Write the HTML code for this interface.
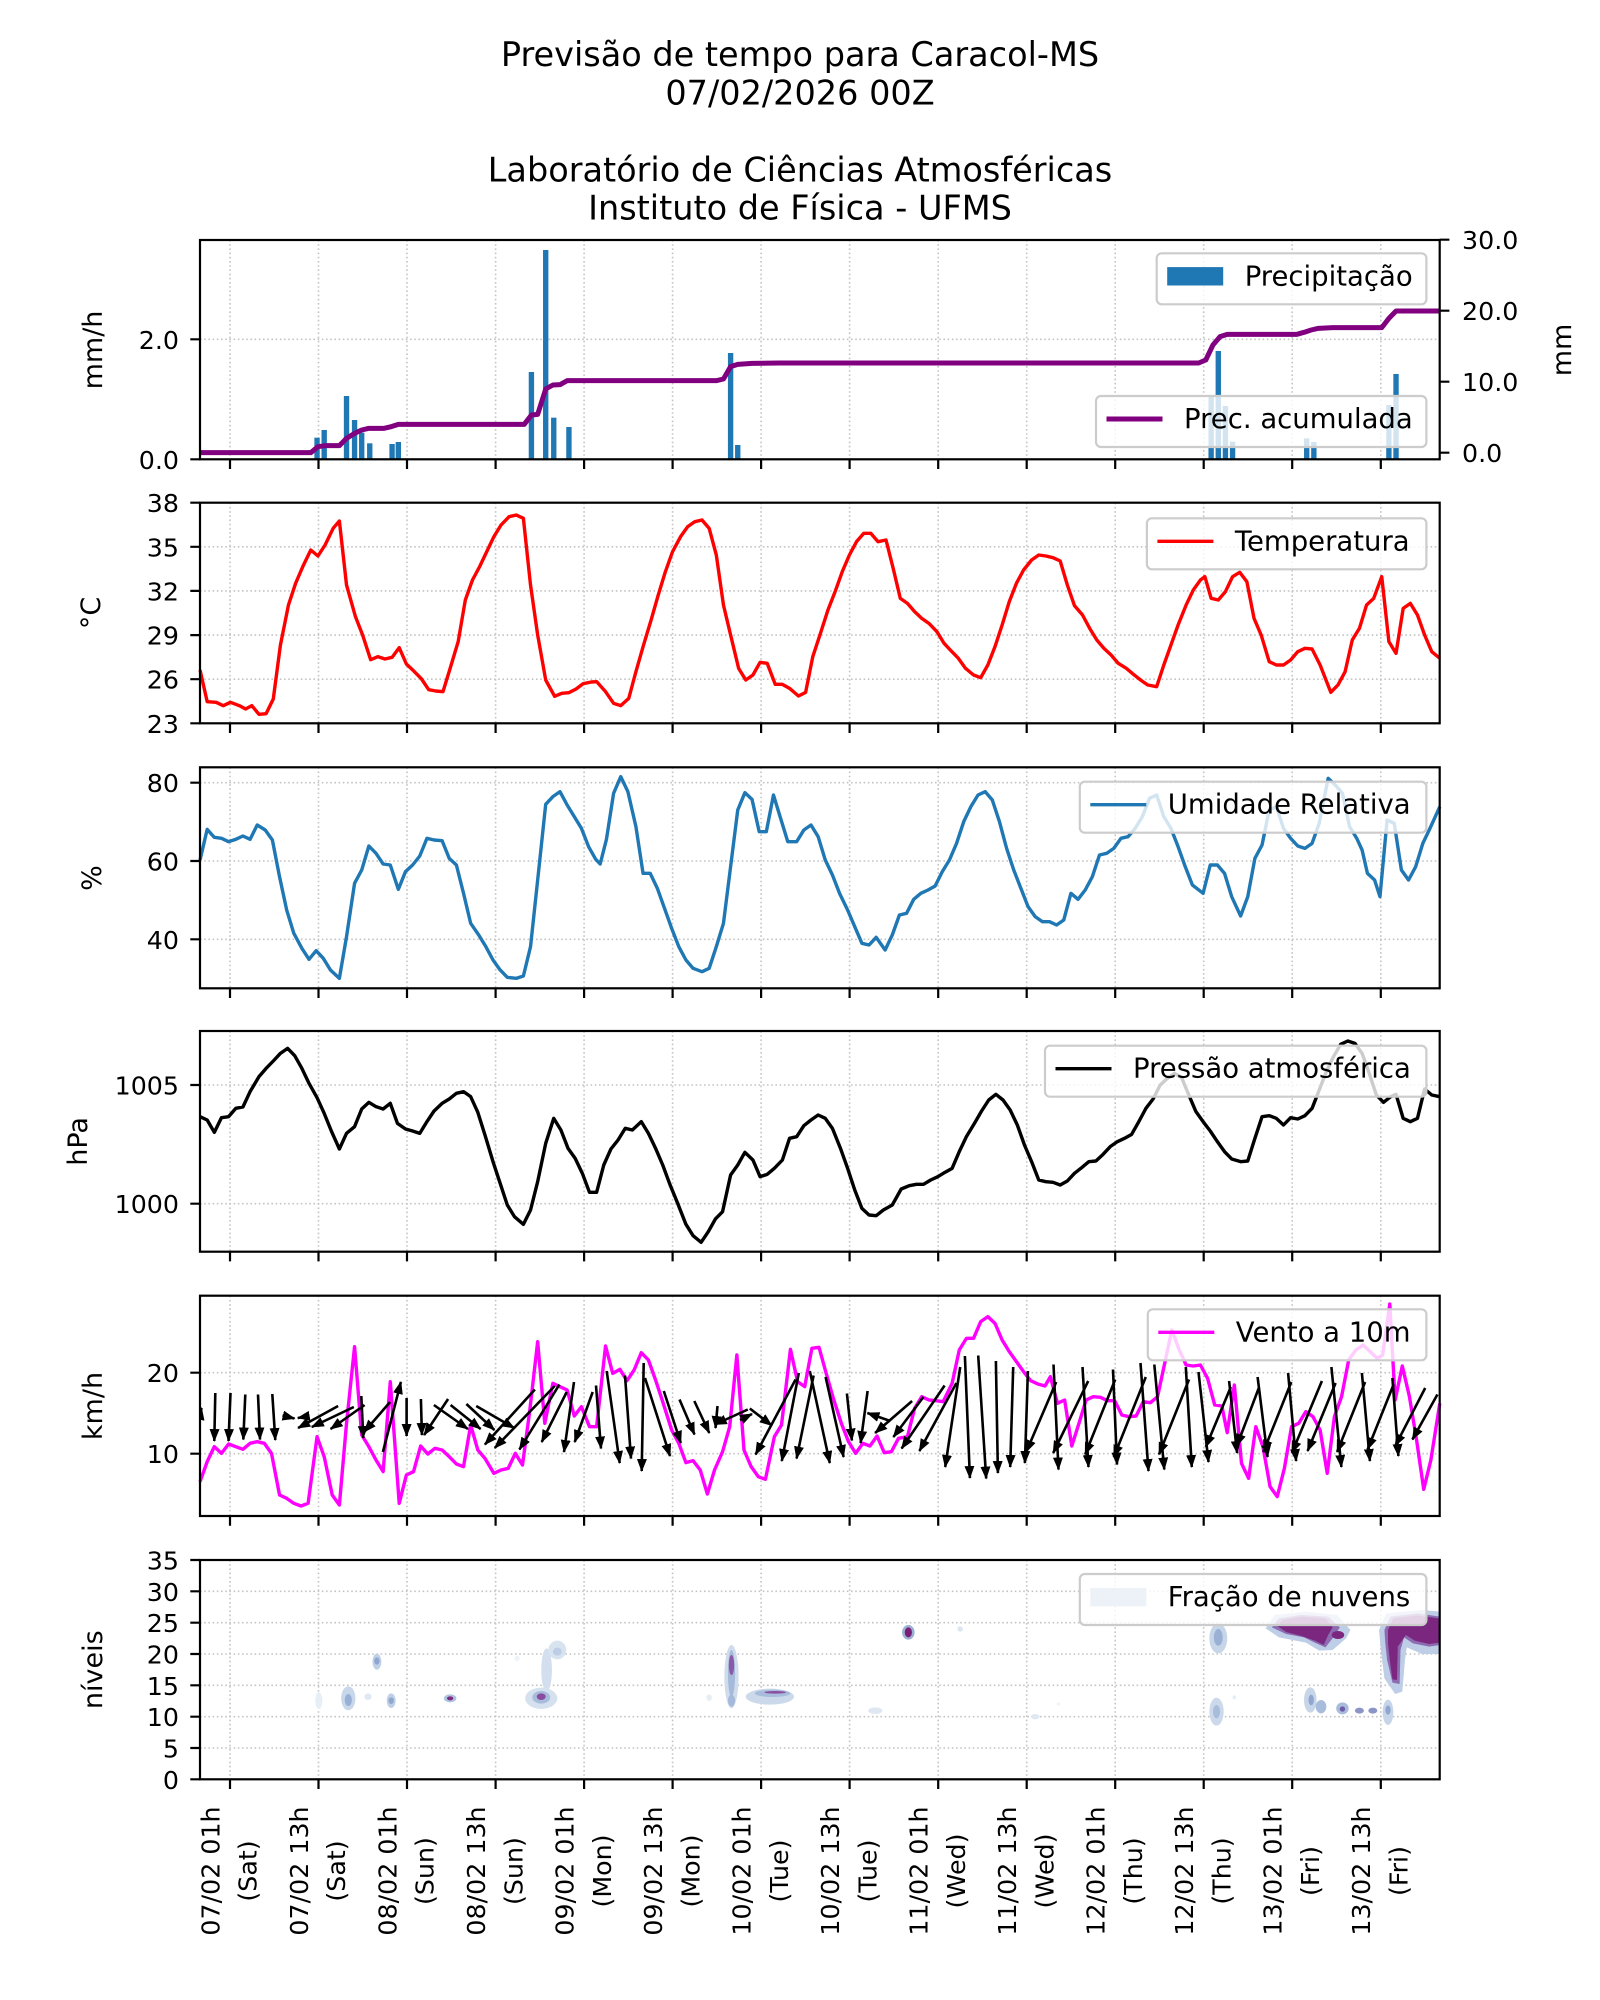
<!DOCTYPE html>
<html><head><meta charset="utf-8"><style>
html,body{margin:0;padding:0;background:#fff;}
svg{display:block;}
text{font-family:"DejaVu Sans","Liberation Sans",sans-serif;fill:#000;}
.grid{stroke:#c4c4c4;stroke-width:1.6;stroke-dasharray:1.6,2.6;fill:none;}
.sp{fill:none;stroke:#000;stroke-width:2.2;}
.tk{stroke:#000;stroke-width:2.2;}
.tl{font-size:25.3px;text-anchor:end;}
.tr{font-size:25.3px;text-anchor:start;}
.yl{font-size:27px;text-anchor:middle;}
.xl{font-size:25.3px;text-anchor:middle;}
.lg{fill:#fff;fill-opacity:0.8;stroke:#cccccc;stroke-width:2.2;}
.lt{font-size:27.5px;}
.ln{fill:none;stroke-width:3.4;stroke-linejoin:round;vector-effect:non-scaling-stroke;}
.ar path{fill:none;stroke:#000;stroke-width:2.6;marker-end:url(#ah);}
</style></head><body>
<svg width="1600" height="2000" viewBox="0 0 1600 2000" xmlns="http://www.w3.org/2000/svg">
<defs>
<marker id="ah" viewBox="0 0 13 10" refX="12" refY="5" markerWidth="13" markerHeight="10" markerUnits="userSpaceOnUse" orient="auto"><path d="M0,0L13,5L0,10z" fill="#000"/></marker>
<clipPath id="c5"><rect x="200" y="1295.7" width="1239.7" height="220.3"/></clipPath>
</defs>
<rect width="1600" height="2000" fill="#fff"/>

<!-- Titles -->
<text x="800" y="66" font-size="33.5" text-anchor="middle">Previsão de tempo para Caracol-MS</text>
<text x="800" y="104.5" font-size="33.5" text-anchor="middle">07/02/2026 00Z</text>
<text x="800" y="181.5" font-size="33.5" text-anchor="middle">Laboratório de Ciências Atmosféricas</text>
<text x="800" y="219.5" font-size="33.5" text-anchor="middle">Instituto de Física - UFMS</text>

<!-- Vertical grid lines for all panels -->
<g class="grid">
<path d="M230,240V459.3M318.5,240V459.3M407,240V459.3M495.6,240V459.3M584.1,240V459.3M672.6,240V459.3M761.1,240V459.3M849.6,240V459.3M938.2,240V459.3M1026.7,240V459.3M1115.2,240V459.3M1203.7,240V459.3M1292.2,240V459.3M1380.8,240V459.3"/>
<path d="M230,502.7V723.3M318.5,502.7V723.3M407,502.7V723.3M495.6,502.7V723.3M584.1,502.7V723.3M672.6,502.7V723.3M761.1,502.7V723.3M849.6,502.7V723.3M938.2,502.7V723.3M1026.7,502.7V723.3M1115.2,502.7V723.3M1203.7,502.7V723.3M1292.2,502.7V723.3M1380.8,502.7V723.3"/>
<path d="M230,767.3V988.3M318.5,767.3V988.3M407,767.3V988.3M495.6,767.3V988.3M584.1,767.3V988.3M672.6,767.3V988.3M761.1,767.3V988.3M849.6,767.3V988.3M938.2,767.3V988.3M1026.7,767.3V988.3M1115.2,767.3V988.3M1203.7,767.3V988.3M1292.2,767.3V988.3M1380.8,767.3V988.3"/>
<path d="M230,1031V1251.7M318.5,1031V1251.7M407,1031V1251.7M495.6,1031V1251.7M584.1,1031V1251.7M672.6,1031V1251.7M761.1,1031V1251.7M849.6,1031V1251.7M938.2,1031V1251.7M1026.7,1031V1251.7M1115.2,1031V1251.7M1203.7,1031V1251.7M1292.2,1031V1251.7M1380.8,1031V1251.7"/>
<path d="M230,1295.7V1516M318.5,1295.7V1516M407,1295.7V1516M495.6,1295.7V1516M584.1,1295.7V1516M672.6,1295.7V1516M761.1,1295.7V1516M849.6,1295.7V1516M938.2,1295.7V1516M1026.7,1295.7V1516M1115.2,1295.7V1516M1203.7,1295.7V1516M1292.2,1295.7V1516M1380.8,1295.7V1516"/>
<path d="M230,1560V1779.3M318.5,1560V1779.3M407,1560V1779.3M495.6,1560V1779.3M584.1,1560V1779.3M672.6,1560V1779.3M761.1,1560V1779.3M849.6,1560V1779.3M938.2,1560V1779.3M1026.7,1560V1779.3M1115.2,1560V1779.3M1203.7,1560V1779.3M1292.2,1560V1779.3M1380.8,1560V1779.3"/>
<path d="M200,339.3H1439.7"/>
<path d="M200,679.2H1439.7M200,635.1H1439.7M200,590.9H1439.7M200,546.8H1439.7"/>
<path d="M200,939.3H1439.7M200,861H1439.7M200,782.7H1439.7"/>
<path d="M200,1203.7H1439.7M200,1085H1439.7"/>
<path d="M200,1453.7H1439.7M200,1372.7H1439.7"/>
<path d="M200,1748H1439.7M200,1716.7H1439.7M200,1685.3H1439.7M200,1654H1439.7M200,1622.7H1439.7M200,1591.3H1439.7"/>
</g>

<!-- PANEL 1: precipitation -->
<g transform="translate(100,225) scale(0.8932,0.33333)">
<g fill="#1f77b4">
<rect x="240" y="638" width="6" height="65"/>
<rect x="248" y="615" width="6" height="88"/>
<rect x="273" y="513" width="6" height="190"/>
<rect x="282" y="585" width="6" height="118"/>
<rect x="290" y="623" width="6" height="80"/>
<rect x="299" y="655" width="6" height="48"/>
<rect x="324" y="657" width="6" height="46"/>
<rect x="331" y="651" width="6" height="52"/>
<rect x="480" y="441" width="6" height="262"/>
<rect x="496" y="75" width="6" height="628"/>
<rect x="505" y="578" width="6" height="125"/>
<rect x="522" y="606" width="6" height="97"/>
<rect x="703" y="384" width="6" height="319"/>
<rect x="711" y="660" width="6" height="43"/>
<rect x="1241" y="515" width="6" height="188"/>
<rect x="1249" y="378" width="6" height="325"/>
<rect x="1257" y="543" width="6" height="160"/>
<rect x="1265" y="650" width="6" height="53"/>
<rect x="1348" y="640" width="6" height="63"/>
<rect x="1356" y="651" width="6" height="52"/>
<rect x="1440" y="540" width="6" height="163"/>
<rect x="1448" y="447" width="6" height="256"/>
</g>
<polyline class="ln" style="stroke:#800080;stroke-width:5" points="112,683 236,683 244,665 252,662 268,662 276,640 285,625 293,615 301,610 318,610 326,605 334,598 475,598 483,570 490,568 499,492 507,480 515,479 523,467 690,467 698,462 706,425 714,418 730,415 760,414 1230,414 1238,405 1246,360 1254,335 1262,328 1340,328 1348,322 1356,315 1364,310 1380,308 1435,308 1443,280 1451,258 1500,258"/>
</g>
<rect class="lg" x="1156.7" y="253.3" width="269.7" height="51" rx="5"/>
<rect x="1167.2" y="267.1" width="56" height="18.4" fill="#1f77b4"/>
<text class="lt" x="1244.7" y="285.3">Precipitação</text>
<rect class="lg" x="1096" y="396" width="330.4" height="51" rx="5"/>
<line x1="1106.5" y1="419" x2="1162.5" y2="419" stroke="#800080" stroke-width="5"/>
<text class="lt" x="1184" y="428">Prec. acumulada</text>
<rect class="sp" x="200" y="240" width="1239.7" height="219.3"/>
<path class="tk" d="M190.3,459.3H200M190.3,339.3H200M1439.7,452.7H1449.4M1439.7,381.7H1449.4M1439.7,310.7H1449.4M1439.7,239.7H1449.4"/>
<text class="tl" x="179" y="468.8">0.0</text>
<text class="tl" x="179" y="348.8">2.0</text>
<text class="tr" x="1462" y="462.2">0.0</text>
<text class="tr" x="1462" y="391.2">10.0</text>
<text class="tr" x="1462" y="320.2">20.0</text>
<text class="tr" x="1462" y="249.2">30.0</text>
<text class="yl" transform="translate(102,350) rotate(-90)">mm/h</text>
<text class="yl" transform="translate(1571,350) rotate(-90)">mm</text>

<!-- PANEL 2: temperature -->
<g transform="translate(100,495) scale(0.8932,0.33333)">
<polyline class="ln" style="stroke:#ff0000" points="112,525 120,620 130,622 138,632 146,622 156,632 163,642 170,632 178,658 186,656 194,612 202,450 211,330 219,265 227,215 236,165 244,183 252,150 261,100 268,78 276,270 286,365 294,420 303,494 311,485 319,492 327,487 335,458 343,507 352,530 360,552 368,584 376,588 384,590 392,520 401,440 409,315 417,255 425,215 433,170 441,125 449,90 458,65 466,60 474,70 482,270 490,420 499,555 509,604 517,595 525,593 533,582 541,566 550,561 556,560 566,590 575,625 583,632 592,610 600,530 608,455 617,375 625,300 633,230 641,170 650,125 658,95 666,80 674,75 682,100 690,180 698,330 706,420 715,520 723,555 731,540 739,502 747,505 756,568 764,568 772,580 782,603 790,592 798,485 806,420 815,345 823,290 831,230 839,180 847,140 855,115 863,115 871,140 880,135 888,220 896,310 904,325 912,350 920,370 928,385 937,410 945,445 953,468 961,490 969,520 978,540 986,548 994,510 1002,455 1010,390 1018,320 1026,265 1034,225 1043,195 1051,180 1059,183 1067,188 1075,198 1083,270 1091,332 1100,360 1108,400 1116,435 1124,460 1132,480 1140,505 1149,520 1157,538 1165,555 1173,570 1183,575 1191,510 1199,450 1207,390 1216,330 1224,285 1232,255 1237,245 1244,310 1252,315 1260,290 1268,245 1276,232 1284,260 1292,370 1300,420 1309,500 1317,510 1325,510 1333,495 1341,470 1349,460 1357,462 1366,510 1378,592 1386,570 1394,530 1402,435 1410,400 1418,330 1426,310 1435,245 1443,440 1451,475 1459,340 1467,325 1475,360 1483,420 1491,470 1500,490"/>
</g>
<rect class="lg" x="1146.9" y="518.3" width="279.5" height="51" rx="5"/>
<line x1="1157.4" y1="541.3" x2="1213.4" y2="541.3" stroke="#ff0000" stroke-width="3.4"/>
<text class="lt" x="1234.9" y="550.3">Temperatura</text>
<rect class="sp" x="200" y="502.7" width="1239.7" height="220.6"/>
<path class="tk" d="M190.3,723.3H200M190.3,679.2H200M190.3,635.1H200M190.3,590.9H200M190.3,546.8H200M190.3,502.7H200"/>
<text class="tl" x="179" y="732.8">23</text>
<text class="tl" x="179" y="688.7">26</text>
<text class="tl" x="179" y="644.6">29</text>
<text class="tl" x="179" y="600.4">32</text>
<text class="tl" x="179" y="556.3">35</text>
<text class="tl" x="179" y="512.2">38</text>
<text class="yl" transform="translate(100,613) rotate(-90)">°C</text>

<!-- PANEL 3: humidity -->
<g transform="translate(100,760) scale(0.8932,0.33333)">
<polyline class="ln" style="stroke:#1f77b4" points="112,300 120,208 128,232 136,235 144,245 152,238 160,228 168,238 176,195 185,210 193,240 201,350 209,450 217,520 226,565 234,598 242,572 250,595 258,630 268,655 276,530 285,370 293,330 301,258 309,280 317,312 325,315 334,388 342,335 350,315 358,288 366,235 374,240 383,242 391,295 399,315 407,400 415,490 424,525 432,560 440,600 448,630 456,652 466,655 474,648 482,560 490,360 499,133 507,110 515,95 523,135 531,170 539,205 547,260 555,298 560,312 567,238 575,100 583,50 591,95 600,200 608,340 616,340 624,385 632,445 640,505 648,560 656,600 664,625 674,635 682,625 690,560 698,490 706,320 714,150 722,98 730,118 738,215 746,215 754,105 762,175 770,245 780,245 788,210 796,195 804,230 812,300 820,345 828,400 837,450 845,500 853,550 861,555 869,532 879,570 887,525 895,465 903,460 911,418 919,400 927,390 935,378 943,335 951,300 959,250 967,185 975,140 983,105 991,95 999,120 1007,185 1015,265 1023,330 1031,385 1039,440 1047,470 1055,485 1063,485 1071,495 1079,480 1087,400 1095,418 1103,390 1111,350 1119,285 1127,280 1135,265 1143,235 1151,230 1159,205 1167,170 1175,115 1183,105 1191,170 1199,205 1207,260 1215,320 1223,375 1235,400 1243,315 1251,315 1259,340 1267,410 1277,468 1285,410 1293,295 1301,255 1309,150 1317,140 1325,205 1333,235 1341,258 1349,265 1357,250 1365,190 1375,55 1383,75 1391,100 1399,200 1407,235 1413,270 1419,340 1427,360 1433,410 1441,180 1449,190 1457,330 1465,360 1473,320 1481,250 1489,205 1500,140"/>
</g>
<rect class="lg" x="1079.8" y="781.7" width="346.6" height="51" rx="5"/>
<line x1="1090.3" y1="804.7" x2="1146.3" y2="804.7" stroke="#1f77b4" stroke-width="3.4"/>
<text class="lt" x="1167.8" y="813.7">Umidade Relativa</text>
<rect class="sp" x="200" y="767.3" width="1239.7" height="221"/>
<path class="tk" d="M190.3,939.3H200M190.3,861H200M190.3,782.7H200"/>
<text class="tl" x="179" y="948.8">40</text>
<text class="tl" x="179" y="870.5">60</text>
<text class="tl" x="179" y="792.2">80</text>
<text class="yl" transform="translate(101,878) rotate(-90)">%</text>

<!-- PANEL 4: pressure -->
<g transform="translate(100,1025) scale(0.8932,0.33333)">
<polyline class="ln" style="stroke:#000" points="112,275 120,285 128,322 136,278 144,275 152,250 160,246 168,200 178,155 186,130 194,108 202,85 210,70 218,92 226,130 234,175 243,218 251,265 259,318 268,372 276,325 285,305 293,252 301,232 309,245 317,252 325,235 333,295 342,312 350,318 358,325 366,290 374,258 383,235 391,222 399,205 407,200 415,215 423,262 431,330 440,410 448,475 456,540 464,575 474,598 482,555 490,470 499,355 508,280 516,315 524,370 532,400 540,445 548,502 556,502 564,420 572,372 580,345 588,310 596,315 606,290 614,325 622,370 630,420 638,478 646,530 656,598 664,632 673,652 681,620 689,582 697,560 706,450 714,420 722,382 731,405 739,455 747,448 755,430 764,405 772,340 780,335 788,302 796,285 804,270 812,280 820,310 829,370 837,430 845,495 853,550 861,570 869,572 877,555 887,540 897,492 906,482 914,478 922,478 930,465 938,455 946,442 954,430 962,380 970,335 979,295 987,258 995,225 1003,208 1011,225 1019,255 1027,300 1035,360 1043,410 1051,465 1059,470 1067,472 1075,480 1083,468 1091,445 1099,428 1107,410 1115,408 1123,388 1131,365 1139,350 1147,340 1155,328 1163,290 1171,250 1179,222 1187,180 1195,160 1203,145 1211,158 1219,210 1227,260 1235,290 1243,318 1251,350 1259,380 1267,402 1277,410 1285,408 1293,340 1301,275 1309,272 1317,280 1325,300 1333,278 1341,282 1349,272 1357,250 1365,195 1373,140 1381,95 1389,58 1397,48 1405,55 1413,85 1421,145 1429,210 1437,232 1445,215 1451,208 1459,280 1467,290 1475,280 1483,192 1491,210 1500,215"/>
</g>
<rect class="lg" x="1045" y="1045.7" width="381.4" height="51" rx="5"/>
<line x1="1055.5" y1="1068.7" x2="1111.5" y2="1068.7" stroke="#000" stroke-width="3.4"/>
<text class="lt" x="1133" y="1077.7">Pressão atmosférica</text>
<rect class="sp" x="200" y="1031" width="1239.7" height="220.7"/>
<path class="tk" d="M190.3,1203.7H200M190.3,1085H200"/>
<text class="tl" x="179" y="1213.2">1000</text>
<text class="tl" x="179" y="1094.5">1005</text>
<text class="yl" transform="translate(87,1141.4) rotate(-90)">hPa</text>

<!-- PANEL 5: wind -->
<g transform="translate(100,1290) scale(0.8932,0.33333)">
<polyline class="ln" style="stroke:#ff00ff" points="112,575 120,515 128,470 136,490 144,462 152,470 160,478 168,460 176,455 184,460 192,490 201,615 209,625 217,640 225,648 233,640 243,440 251,500 260,615 268,645 276,400 285,170 293,435 301,470 309,510 317,545 325,275 335,640 343,555 351,545 359,468 367,492 375,475 383,480 391,500 399,522 407,530 415,405 423,480 431,505 441,550 449,540 457,535 465,490 473,525 481,365 490,155 498,400 507,280 515,290 523,300 531,378 539,350 548,410 556,410 566,168 574,250 582,238 590,272 598,240 606,188 614,210 622,270 630,335 640,420 648,460 656,518 664,512 672,540 680,612 688,540 697,485 705,410 713,195 721,480 729,530 737,560 745,568 755,440 763,405 773,178 781,275 789,290 797,175 805,172 813,250 821,325 830,400 838,455 846,490 854,460 862,468 870,438 878,488 886,485 894,445 904,440 912,355 920,320 928,330 936,332 944,335 954,280 962,180 970,145 978,145 986,95 994,80 1002,100 1010,150 1018,185 1026,215 1034,245 1042,272 1050,282 1058,288 1064,260 1072,340 1080,330 1088,468 1096,400 1104,330 1112,320 1120,322 1128,332 1136,332 1144,375 1152,380 1160,378 1168,335 1176,338 1184,320 1192,220 1200,120 1208,178 1216,225 1224,228 1232,225 1240,265 1248,345 1256,348 1262,428 1270,285 1278,520 1286,565 1294,410 1302,470 1310,590 1318,620 1326,535 1334,410 1342,400 1350,365 1358,380 1366,420 1374,550 1382,380 1390,320 1398,210 1406,180 1414,165 1422,185 1430,205 1436,195 1444,42 1450,330 1458,228 1466,320 1474,450 1482,598 1490,510 1500,340"/>
</g>
<g class="ar" clip-path="url(#c5)">
<path d="M200,1417m-1.5,9l3,-18"/>
<path d="M214.8,1417m0.5,-24l-1,48"/>
<path d="M229.5,1417m1,-24l-2,48"/>
<path d="M244.3,1417m1,-22.5l-2,45"/>
<path d="M259,1417m-1,-22.5l2,45"/>
<path d="M273.8,1417m-1.5,-23l3,46"/>
<path d="M288.5,1417m-6,-1.5l12,3"/>
<path d="M303.3,1417m5.5,-1l-11,2"/>
<path d="M318.1,1417m20,-11l-40,22"/>
<path d="M332.8,1417m21,-10l-42,20"/>
<path d="M347.6,1417m17,-12l-34,24"/>
<path d="M362.3,1417m-1,-21l2,42"/>
<path d="M377.1,1417m13,-15l-26,30"/>
<path d="M391.9,1417m-9,35l18,-70"/>
<path d="M406.6,1417m0,-19l0,38"/>
<path d="M421.4,1417m-0.5,-18l1,36"/>
<path d="M436.1,1417m12,-18l-24,36"/>
<path d="M450.9,1417m-17,-12l34,24"/>
<path d="M465.6,1417m-15,-12l30,24"/>
<path d="M480.4,1417m-14,-13l28,26"/>
<path d="M495.2,1417m-19,-11l38,22"/>
<path d="M509.9,1417m25,-27.5l-50,55"/>
<path d="M524.7,1417m30,-31l-60,62"/>
<path d="M539.4,1417m20,-32.5l-40,65"/>
<path d="M554.2,1417m12.5,-25l-25,50"/>
<path d="M569,1417m5,-35l-10,70"/>
<path d="M583.7,1417m9,-25l-18,50"/>
<path d="M598.5,1417m-2.5,-31.5l5,63"/>
<path d="M613.2,1417m-6.5,-46l13,92"/>
<path d="M628,1417m-3,-41.5l6,83"/>
<path d="M642.7,1417m1,-54l-2,108"/>
<path d="M657.5,1417m-12.5,-39l25,78"/>
<path d="M672.3,1417m-8.5,-26l17,52"/>
<path d="M687,1417m-7.5,-17.5l15,35"/>
<path d="M701.8,1417m-7.5,-16l15,32"/>
<path d="M716.5,1417m1,-11l-2,22"/>
<path d="M731.3,1417m16.5,-7.5l-33,15"/>
<path d="M746,1417m-6,3l12,-6"/>
<path d="M760.8,1417m-11,-8.5l22,17"/>
<path d="M775.6,1417m20,-37.5l-40,75"/>
<path d="M790.3,1417m8.5,-44l-17,88"/>
<path d="M805.1,1417m8.5,-41.5l-17,83"/>
<path d="M819.8,1417m-10,-46l20,92"/>
<path d="M834.6,1417m-9,-40l18,80"/>
<path d="M849.4,1417m-2.5,-23.5l5,47"/>
<path d="M864.1,1417m3.5,-26l-7,52"/>
<path d="M878.9,1417m11.5,4l-23,-8"/>
<path d="M893.6,1417m18.5,-16l-37,32"/>
<path d="M908.4,1417m15,-20l-30,40"/>
<path d="M923.1,1417m21.5,-31.5l-43,63"/>
<path d="M937.9,1417m18.5,-34l-37,68"/>
<path d="M952.7,1417m7.5,-50l-15,100"/>
<path d="M967.4,1417m-2.5,-61l5,122"/>
<path d="M982.2,1417m-4,-61.5l8,123"/>
<path d="M996.9,1417m-1,-56l2,112"/>
<path d="M1011.7,1417m1.5,-50l-3,100"/>
<path d="M1026.4,1417m1.5,-46l-3,92"/>
<path d="M1041.2,1417m15,-35l-30,70"/>
<path d="M1056,1417m-2.5,-52.5l5,105"/>
<path d="M1070.7,1417m17.5,-36l-35,72"/>
<path d="M1085.5,1417m-3,-50l6,100"/>
<path d="M1100.2,1417m15,-37.5l-30,75"/>
<path d="M1115,1417m-2,-47.5l4,95"/>
<path d="M1129.8,1417m16,-40l-32,80"/>
<path d="M1144.5,1417m-4,-54l8,108"/>
<path d="M1159.3,1417m-5,-52.5l10,105"/>
<path d="M1174,1417m15,-37.5l-30,75"/>
<path d="M1188.8,1417m-3,-50l6,100"/>
<path d="M1203.5,1417m-5,-45l10,90"/>
<path d="M1218.3,1417m12.5,-30l-25,60"/>
<path d="M1233.1,1417m-4,-36l8,72"/>
<path d="M1247.8,1417m11,-29l-22,58"/>
<path d="M1262.6,1417m-5,-40l10,80"/>
<path d="M1277.3,1417m14,-35l-28,70"/>
<path d="M1292.1,1417m-4,-44l8,88"/>
<path d="M1306.9,1417m15,-36l-30,72"/>
<path d="M1321.6,1417m14,-34l-28,68"/>
<path d="M1336.4,1417m-5,-50l10,100"/>
<path d="M1351.1,1417m14,-35l-28,70"/>
<path d="M1365.9,1417m-4,-44l8,88"/>
<path d="M1380.6,1417m13,-32.5l-26,65"/>
<path d="M1395.4,1417m-3,-39l6,78"/>
<path d="M1410.2,1417m15,-29l-30,58"/>
<path d="M1424.9,1417m12.5,-22.5l-25,45"/>
</g>
<rect class="lg" x="1147.8" y="1309.3" width="278.6" height="51" rx="5"/>
<line x1="1158.3" y1="1332.3" x2="1214.3" y2="1332.3" stroke="#ff00ff" stroke-width="3.4"/>
<text class="lt" x="1235.8" y="1341.3">Vento a 10m</text>
<rect class="sp" x="200" y="1295.7" width="1239.7" height="220.3"/>
<path class="tk" d="M190.3,1453.7H200M190.3,1372.7H200"/>
<text class="tl" x="179" y="1463.2">10</text>
<text class="tl" x="179" y="1382.2">20</text>
<text class="yl" transform="translate(102,1406) rotate(-90)">km/h</text>

<!-- PANEL 6: clouds -->
<g transform="translate(100,1550) scale(0.8932,0.33333)">
<ellipse cx="245" cy="452" rx="4" ry="25" fill="#e6eef6"/>
<ellipse cx="278" cy="445" rx="8" ry="36" fill="#c8d7ea"/>
<ellipse cx="278" cy="450" rx="4" ry="18" fill="#98b0d6"/>
<ellipse cx="300" cy="440" rx="4" ry="10" fill="#e0e9f3"/>
<ellipse cx="310" cy="335" rx="5" ry="24" fill="#bfd0e6"/>
<ellipse cx="310" cy="333" rx="3" ry="11" fill="#8fa6d0"/>
<ellipse cx="326" cy="452" rx="5" ry="22" fill="#bfd0e6"/>
<ellipse cx="326" cy="452" rx="3" ry="10" fill="#8fa6d0"/>
<ellipse cx="392" cy="445" rx="7" ry="12" fill="#b0c4e0"/>
<ellipse cx="392" cy="445" rx="3.5" ry="6" fill="#7d2a82"/>
<ellipse cx="467" cy="325" rx="3" ry="8" fill="#eef3f9"/>
<ellipse cx="500" cy="360" rx="6" ry="65" fill="#d3dfee"/>
<ellipse cx="512" cy="300" rx="10" ry="28" fill="#d8e3f0"/>
<ellipse cx="512" cy="305" rx="5" ry="12" fill="#bccde5"/>
<ellipse cx="494" cy="445" rx="18" ry="32" fill="#d5e1ef"/>
<ellipse cx="494" cy="442" rx="10" ry="19" fill="#a8bcdc"/>
<ellipse cx="494" cy="440" rx="5" ry="10" fill="#8a4c9e"/>
<ellipse cx="682" cy="443" rx="3" ry="10" fill="#e5edf5"/>
<ellipse cx="707" cy="380" rx="8" ry="95" fill="#d0dcec"/>
<ellipse cx="707" cy="370" rx="4" ry="70" fill="#a5badb"/>
<ellipse cx="707" cy="345" rx="3" ry="30" fill="#8a5aa8"/>
<ellipse cx="707" cy="452" rx="4" ry="18" fill="#a5badb"/>
<ellipse cx="750" cy="440" rx="27" ry="24" fill="#cbd9eb"/>
<ellipse cx="753" cy="430" rx="20" ry="11" fill="#a8bcdc"/>
<ellipse cx="756" cy="427" rx="12" ry="4" fill="#8c4ea0"/>
<ellipse cx="868" cy="482" rx="8" ry="10" fill="#dfe8f2"/>
<ellipse cx="905" cy="247" rx="7" ry="22" fill="#9ab0d4"/>
<ellipse cx="905" cy="247" rx="4" ry="15" fill="#7a1f78"/>
<ellipse cx="963" cy="237" rx="3" ry="8" fill="#dbe5f1"/>
<ellipse cx="1047" cy="500" rx="5" ry="8" fill="#e0e9f3"/>
<ellipse cx="1073" cy="462" rx="2" ry="5" fill="#eef3f9"/>
<ellipse cx="1252" cy="265" rx="10" ry="45" fill="#c6d5e8"/>
<ellipse cx="1252" cy="262" rx="5" ry="25" fill="#9ab0d4"/>
<ellipse cx="1250" cy="485" rx="8" ry="42" fill="#ccd9eb"/>
<ellipse cx="1250" cy="485" rx="4" ry="20" fill="#a8bcdc"/>
<ellipse cx="1270" cy="442" rx="2" ry="6" fill="#e5edf5"/>
<path d="M1305,235 L1315,195 L1350,185 L1385,195 L1400,240 L1395,265 L1380,300 L1365,302 L1350,278 L1320,262 Z" fill="#bdcee6"/>
<path d="M1312,232 L1320,205 L1345,195 L1375,200 L1388,232 L1382,258 L1372,292 L1360,278 L1348,262 L1328,252 Z" fill="#8c6bb1"/>
<path d="M1318,228 L1324,210 L1345,200 L1372,205 L1380,232 L1375,255 L1370,285 L1360,272 L1345,258 L1328,246 Z" fill="#7b2780"/>
<ellipse cx="1386" cy="255" rx="7" ry="12" fill="#7b2780"/>
<ellipse cx="1355" cy="450" rx="7" ry="38" fill="#c6d5e8"/>
<ellipse cx="1356" cy="450" rx="3" ry="16" fill="#8fa6d0"/>
<ellipse cx="1367" cy="470" rx="6" ry="20" fill="#a8bcdc"/>
<ellipse cx="1391" cy="475" rx="7" ry="18" fill="#a8bcdc"/>
<ellipse cx="1391" cy="477" rx="3" ry="8" fill="#6f5aa8"/>
<ellipse cx="1410" cy="482" rx="5" ry="9" fill="#8c96c6"/>
<ellipse cx="1425" cy="482" rx="5" ry="9" fill="#8c96c6"/>
<ellipse cx="1442" cy="487" rx="6" ry="38" fill="#c6d5e8"/>
<ellipse cx="1442" cy="480" rx="3" ry="14" fill="#8fa6d0"/>
<path d="M1432,240 L1440,190 L1480,180 L1500,185 L1500,312 L1480,312 L1463,292 L1461,330 L1458,425 L1450,432 L1438,385 L1434,300 Z" fill="#bdcee6"/>
<path d="M1438,240 L1445,200 L1475,190 L1500,200 L1500,285 L1488,290 L1470,280 L1460,262 L1456,300 L1455,402 L1447,398 L1441,330 L1439,280 Z" fill="#8c6bb1"/>
<path d="M1442,240 L1448,205 L1475,196 L1500,206 L1500,278 L1488,282 L1472,272 L1462,255 L1453,290 L1452,390 L1447,388 L1444,330 L1442,280 Z" fill="#7b2780"/>
</g>
<rect class="lg" x="1079.8" y="1574" width="346.6" height="51" rx="5"/>
<rect x="1090.3" y="1588" width="56" height="18.4" fill="#edf2f8"/>
<text class="lt" x="1167.8" y="1606">Fração de nuvens</text>
<rect class="sp" x="200" y="1560" width="1239.7" height="219.3"/>
<path class="tk" d="M190.3,1779.3H200M190.3,1748H200M190.3,1716.7H200M190.3,1685.3H200M190.3,1654H200M190.3,1622.7H200M190.3,1591.3H200M190.3,1560H200"/>
<text class="tl" x="179" y="1788.8">0</text>
<text class="tl" x="179" y="1757.5">5</text>
<text class="tl" x="179" y="1726.2">10</text>
<text class="tl" x="179" y="1694.8">15</text>
<text class="tl" x="179" y="1663.5">20</text>
<text class="tl" x="179" y="1632.2">25</text>
<text class="tl" x="179" y="1600.8">30</text>
<text class="tl" x="179" y="1569.5">35</text>
<text class="yl" transform="translate(102,1669.7) rotate(-90)">níveis</text>

<!-- bottom ticks for all panels -->
<g class="tk">
<path d="M230,459.3v9.7M318.5,459.3v9.7M407,459.3v9.7M495.6,459.3v9.7M584.1,459.3v9.7M672.6,459.3v9.7M761.1,459.3v9.7M849.6,459.3v9.7M938.2,459.3v9.7M1026.7,459.3v9.7M1115.2,459.3v9.7M1203.7,459.3v9.7M1292.2,459.3v9.7M1380.8,459.3v9.7"/>
<path d="M230,723.3v9.7M318.5,723.3v9.7M407,723.3v9.7M495.6,723.3v9.7M584.1,723.3v9.7M672.6,723.3v9.7M761.1,723.3v9.7M849.6,723.3v9.7M938.2,723.3v9.7M1026.7,723.3v9.7M1115.2,723.3v9.7M1203.7,723.3v9.7M1292.2,723.3v9.7M1380.8,723.3v9.7"/>
<path d="M230,988.3v9.7M318.5,988.3v9.7M407,988.3v9.7M495.6,988.3v9.7M584.1,988.3v9.7M672.6,988.3v9.7M761.1,988.3v9.7M849.6,988.3v9.7M938.2,988.3v9.7M1026.7,988.3v9.7M1115.2,988.3v9.7M1203.7,988.3v9.7M1292.2,988.3v9.7M1380.8,988.3v9.7"/>
<path d="M230,1251.7v9.7M318.5,1251.7v9.7M407,1251.7v9.7M495.6,1251.7v9.7M584.1,1251.7v9.7M672.6,1251.7v9.7M761.1,1251.7v9.7M849.6,1251.7v9.7M938.2,1251.7v9.7M1026.7,1251.7v9.7M1115.2,1251.7v9.7M1203.7,1251.7v9.7M1292.2,1251.7v9.7M1380.8,1251.7v9.7"/>
<path d="M230,1516v9.7M318.5,1516v9.7M407,1516v9.7M495.6,1516v9.7M584.1,1516v9.7M672.6,1516v9.7M761.1,1516v9.7M849.6,1516v9.7M938.2,1516v9.7M1026.7,1516v9.7M1115.2,1516v9.7M1203.7,1516v9.7M1292.2,1516v9.7M1380.8,1516v9.7"/>
<path d="M230,1779.3v9.7M318.5,1779.3v9.7M407,1779.3v9.7M495.6,1779.3v9.7M584.1,1779.3v9.7M672.6,1779.3v9.7M761.1,1779.3v9.7M849.6,1779.3v9.7M938.2,1779.3v9.7M1026.7,1779.3v9.7M1115.2,1779.3v9.7M1203.7,1779.3v9.7M1292.2,1779.3v9.7M1380.8,1779.3v9.7"/>
</g>

<!-- x tick labels -->
<g class="xl">
<text transform="translate(219.3,1871) rotate(-90)">07/02 01h</text><text transform="translate(256.7,1871) rotate(-90)">(Sat)</text>
<text transform="translate(307.8,1871) rotate(-90)">07/02 13h</text><text transform="translate(345.2,1871) rotate(-90)">(Sat)</text>
<text transform="translate(396.3,1871) rotate(-90)">08/02 01h</text><text transform="translate(433.7,1871) rotate(-90)">(Sun)</text>
<text transform="translate(484.9,1871) rotate(-90)">08/02 13h</text><text transform="translate(522.3,1871) rotate(-90)">(Sun)</text>
<text transform="translate(573.4,1871) rotate(-90)">09/02 01h</text><text transform="translate(610.8,1871) rotate(-90)">(Mon)</text>
<text transform="translate(661.9,1871) rotate(-90)">09/02 13h</text><text transform="translate(699.3,1871) rotate(-90)">(Mon)</text>
<text transform="translate(750.4,1871) rotate(-90)">10/02 01h</text><text transform="translate(787.8,1871) rotate(-90)">(Tue)</text>
<text transform="translate(838.9,1871) rotate(-90)">10/02 13h</text><text transform="translate(876.3,1871) rotate(-90)">(Tue)</text>
<text transform="translate(927.5,1871) rotate(-90)">11/02 01h</text><text transform="translate(964.9,1871) rotate(-90)">(Wed)</text>
<text transform="translate(1016,1871) rotate(-90)">11/02 13h</text><text transform="translate(1053.4,1871) rotate(-90)">(Wed)</text>
<text transform="translate(1104.5,1871) rotate(-90)">12/02 01h</text><text transform="translate(1141.9,1871) rotate(-90)">(Thu)</text>
<text transform="translate(1193,1871) rotate(-90)">12/02 13h</text><text transform="translate(1230.4,1871) rotate(-90)">(Thu)</text>
<text transform="translate(1281.5,1871) rotate(-90)">13/02 01h</text><text transform="translate(1318.9,1871) rotate(-90)">(Fri)</text>
<text transform="translate(1370.1,1871) rotate(-90)">13/02 13h</text><text transform="translate(1407.5,1871) rotate(-90)">(Fri)</text>
</g>
</svg>
</body></html>
